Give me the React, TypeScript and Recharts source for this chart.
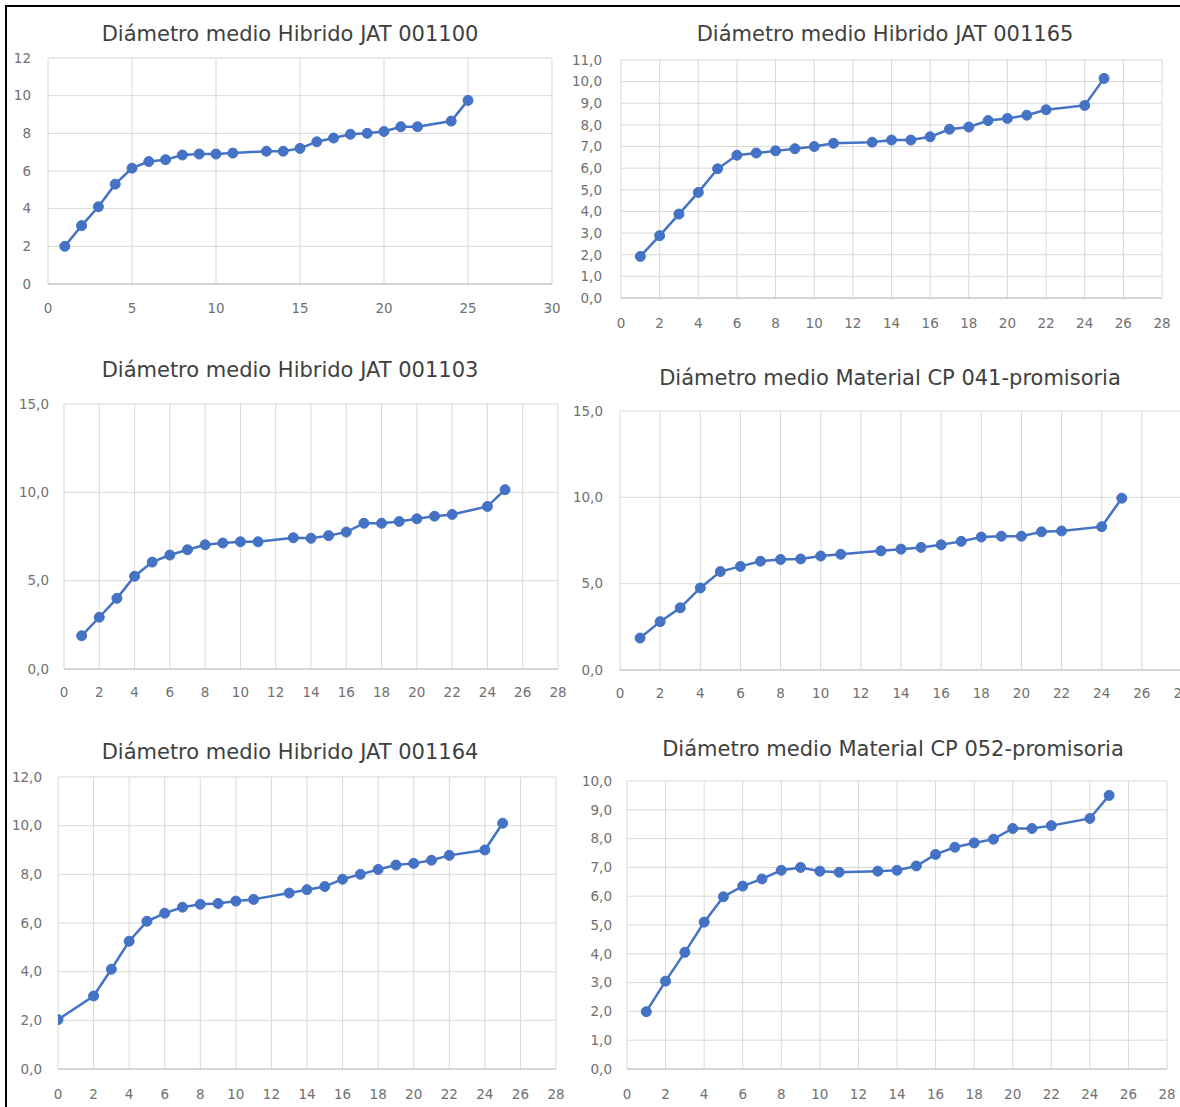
import React from 'react';
import { LineChart, Line, XAxis, YAxis, CartesianGrid } from 'recharts';

// muestras (eje x)
const muestras = [1, 2, 3, 4, 5, 6, 7, 8, 9, 10, 11, 13, 14, 15, 16, 17, 18, 19, 20, 21, 22, 24, 25];
const muestras164 = [0, 2, 3, 4, 5, 6, 7, 8, 9, 10, 11, 13, 14, 15, 16, 17, 18, 19, 20, 21, 22, 24, 25];

// diámetro medio por material
const jat001100 = [2.0, 3.1, 4.1, 5.3, 6.15, 6.5, 6.6, 6.85, 6.9, 6.9, 6.95, 7.05, 7.05, 7.2, 7.55, 7.75, 7.95, 8.0, 8.1, 8.35, 8.35, 8.65, 9.75];
const jat001165 = [1.92, 2.88, 3.88, 4.88, 5.97, 6.6, 6.7, 6.8, 6.9, 7.0, 7.15, 7.2, 7.3, 7.3, 7.45, 7.8, 7.9, 8.2, 8.3, 8.45, 8.7, 8.9, 10.15];
const jat001103 = [1.88, 2.93, 4.0, 5.25, 6.05, 6.45, 6.75, 7.03, 7.13, 7.2, 7.2, 7.43, 7.4, 7.55, 7.75, 8.25, 8.25, 8.35, 8.5, 8.65, 8.75, 9.2, 10.15];
const cp041 = [1.85, 2.8, 3.6, 4.75, 5.7, 6.0, 6.3, 6.4, 6.43, 6.6, 6.7, 6.9, 7.0, 7.1, 7.25, 7.45, 7.7, 7.75, 7.75, 8.0, 8.05, 8.3, 9.95];
const jat001164 = [2.03, 3.0, 4.1, 5.25, 6.07, 6.4, 6.65, 6.77, 6.8, 6.9, 6.97, 7.23, 7.37, 7.5, 7.8, 8.0, 8.2, 8.38, 8.45, 8.58, 8.78, 9.0, 10.1];
const cp052 = [1.99, 3.05, 4.05, 5.1, 5.98, 6.35, 6.6, 6.9, 7.0, 6.87, 6.83, 6.87, 6.9, 7.05, 7.45, 7.7, 7.85, 7.98, 8.35, 8.35, 8.45, 8.7, 9.5];

// ticks
const ticksX5 = [0, 5, 10, 15, 20, 25, 30];
const ticksX2 = [0, 2, 4, 6, 8, 10, 12, 14, 16, 18, 20, 22, 24, 26, 28];
const ticksY12by2 = [0, 2, 4, 6, 8, 10, 12];
const ticksY11 = [0, 1, 2, 3, 4, 5, 6, 7, 8, 9, 10, 11];
const ticksY15 = [0, 5, 10, 15];
const ticksY10 = [0, 1, 2, 3, 4, 5, 6, 7, 8, 9, 10];

const BLUE = '#4472C4';
const FONT = '"DejaVu Sans", Verdana, sans-serif';

const fmtInt = (v: number) => String(v);
const fmtDec = (v: number) => v.toFixed(1).replace('.', ',');

type PanelProps = {
  title: string;
  titleX: number;
  titleY: number;
  xs: number[];
  ys: number[];
  xTicks: number[];
  yTicks: number[];
  fmt: (v: number) => string;
  // plot area in page pixels
  l: number;
  r: number;
  t: number;
  b: number;
  yGap: number;
  xGap: number;
};

const Panel = ({ title, titleX, titleY, xs, ys, xTicks, yTicks, fmt, l, r, t, b, yGap, xGap }: PanelProps) => {
  const data = xs.map((x, i) => ({ x, y: ys[i] }));
  const yW = 60;
  const xH = 40;
  const w = r - l + yW + 10;
  const h = b - t + 10 + xH;
  return (
    <>
      <div
        style={{
          position: 'absolute',
          left: titleX - 300,
          top: titleY - 13,
          width: 600,
          lineHeight: '26px',
          textAlign: 'center',
          fontFamily: FONT,
          fontSize: 21,
          color: '#404040',
          whiteSpace: 'nowrap',
        }}
      >
        {title}
      </div>
      <div style={{ position: 'absolute', left: l - yW, top: t - 10 }}>
        <LineChart width={w} height={h} data={data} margin={{ top: 10, right: 10, bottom: 0, left: 0 }}>
          <CartesianGrid stroke="#d9d9d9" strokeWidth={1} />
          <XAxis
            dataKey="x"
            type="number"
            domain={[xTicks[0], xTicks[xTicks.length - 1]]}
            ticks={xTicks}
            interval={0}
            height={xH}
            tickSize={0}
            tickMargin={xGap}
            axisLine={{ stroke: '#bfbfbf' }}
            tick={{ fill: '#707070', fontSize: 13.5, fontFamily: FONT }}
            allowDataOverflow
          />
          <YAxis
            type="number"
            domain={[yTicks[0], yTicks[yTicks.length - 1]]}
            ticks={yTicks}
            interval={0}
            width={yW}
            tickSize={0}
            tickMargin={yGap}
            axisLine={false}
            tickFormatter={fmt}
            tick={{ fill: '#707070', fontSize: 13.5, fontFamily: FONT }}
            allowDataOverflow
          />
          <Line
            dataKey="y"
            type="linear"
            stroke={BLUE}
            strokeWidth={2.5}
            dot={{ r: 5, fill: BLUE, stroke: BLUE, strokeWidth: 1 }}
            isAnimationActive={false}
          />
        </LineChart>
      </div>
    </>
  );
};

export default function App() {
  return (
    <div
      style={{
        position: 'absolute',
        left: 0,
        top: 0,
        width: 1180,
        height: 1107,
        background: '#fff',
        overflow: 'hidden',
      }}
    >
      <div
        style={{
          position: 'absolute',
          left: 5,
          top: 5,
          width: 1200,
          height: 1200,
          borderTop: '2px solid #000',
          borderLeft: '2px solid #000',
        }}
      />
      <Panel
        title="Diámetro medio Hibrido JAT 001100"
        titleX={290}
        titleY={34}
        xs={muestras}
        ys={jat001100}
        xTicks={ticksX5}
        yTicks={ticksY12by2}
        fmt={fmtInt}
        l={48}
        r={552}
        t={58}
        b={284}
        yGap={17}
        xGap={19}
      />
      <Panel
        title="Diámetro medio Hibrido JAT 001165"
        titleX={885}
        titleY={34}
        xs={muestras}
        ys={jat001165}
        xTicks={ticksX2}
        yTicks={ticksY11}
        fmt={fmtDec}
        l={621}
        r={1162}
        t={60}
        b={298}
        yGap={19}
        xGap={20}
      />
      <Panel
        title="Diámetro medio Hibrido JAT 001103"
        titleX={290}
        titleY={370}
        xs={muestras}
        ys={jat001103}
        xTicks={ticksX2}
        yTicks={ticksY15}
        fmt={fmtDec}
        l={64}
        r={558}
        t={404}
        b={669}
        yGap={15}
        xGap={18}
      />
      <Panel
        title="Diámetro medio Material CP 041-promisoria"
        titleX={890}
        titleY={378}
        xs={muestras}
        ys={cp041}
        xTicks={ticksX2}
        yTicks={ticksY15}
        fmt={fmtDec}
        l={620}
        r={1182}
        t={411}
        b={670}
        yGap={17}
        xGap={18}
      />
      <Panel
        title="Diámetro medio Hibrido JAT 001164"
        titleX={290}
        titleY={752}
        xs={muestras164}
        ys={jat001164}
        xTicks={ticksX2}
        yTicks={ticksY12by2}
        fmt={fmtDec}
        l={58}
        r={556}
        t={777}
        b={1069}
        yGap={16}
        xGap={20}
      />
      <Panel
        title="Diámetro medio Material CP 052-promisoria"
        titleX={893}
        titleY={749}
        xs={muestras}
        ys={cp052}
        xTicks={ticksX2}
        yTicks={ticksY10}
        fmt={fmtDec}
        l={627}
        r={1167}
        t={781}
        b={1069}
        yGap={15}
        xGap={20}
      />
    </div>
  );
}
